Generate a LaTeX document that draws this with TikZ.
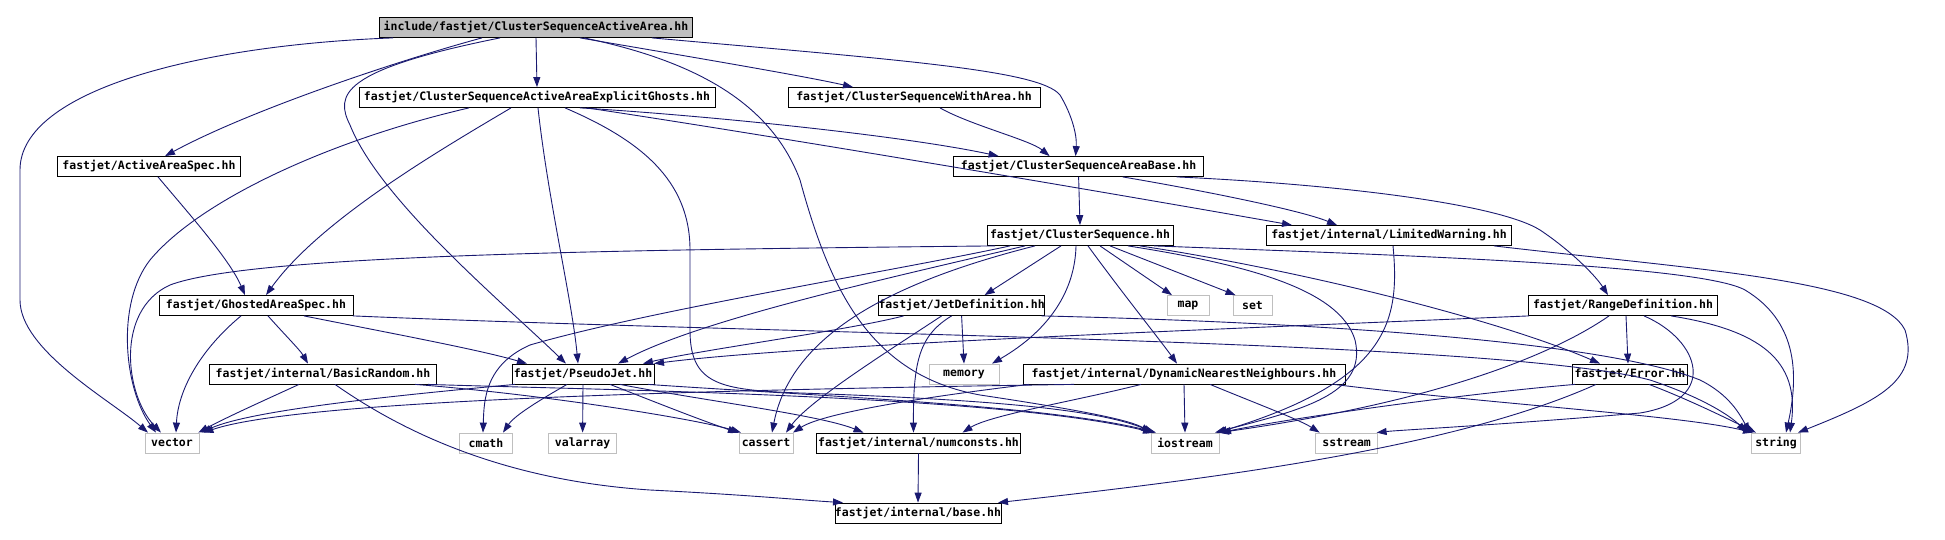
\documentclass[tikz,border=0pt]{standalone}
\usepackage{fontspec}
\usetikzlibrary{arrows.meta}
\newfontfamily\dfont{DejaVu Sans Mono}
\definecolor{edgeblue}{HTML}{191970}
\definecolor{grayb}{HTML}{BFBFBF}
\tikzset{
  fileN/.style={draw=black, line width=0.8pt, fill=white, minimum height=20pt, inner sep=0pt, font=\dfont\bfseries\fontsize{11.5}{13}\selectfont},
  sysN/.style={fileN, draw=grayb},
  rootN/.style={fileN, fill=grayb},
  e/.style={draw=edgeblue, line width=0.9pt, -{Triangle[length=10pt,width=7pt]}}
}
\begin{document}
\begin{tikzpicture}[x=1pt,y=-1pt]
\useasboundingbox (0,0) rectangle (1945,540);
% nodes
\node[rootN, minimum width=313pt] (root) at (536,27.5) {include/fastjet/ClusterSequenceActiveArea.hh};
\node[fileN, minimum width=356pt] (csaaeg) at (537,97.5) {fastjet/ClusterSequenceActiveAreaExplicitGhosts.hh};
\node[fileN, minimum width=252pt] (cswa) at (914,97.5) {fastjet/ClusterSequenceWithArea.hh};
\node[fileN, minimum width=183pt] (aas) at (149,166.5) {fastjet/ActiveAreaSpec.hh};
\node[fileN, minimum width=250pt] (csab) at (1078.6,166.5) {fastjet/ClusterSequenceAreaBase.hh};
\node[fileN, minimum width=186pt] (cs) at (1080,235.5) {fastjet/ClusterSequence.hh};
\node[fileN, minimum width=245pt] (lw) at (1389,235.5) {fastjet/internal/LimitedWarning.hh};
\node[fileN, minimum width=194pt] (gas) at (256,305.5) {fastjet/GhostedAreaSpec.hh};
\node[fileN, minimum width=164pt] (jd) at (961.6,305.5) {fastjet/JetDefinition.hh};
\node[sysN, minimum width=42pt] (map) at (1188,305.5) {map};
\node[sysN, minimum width=39pt] (set) at (1252.5,305.5) {set};
\node[fileN, minimum width=189pt] (range) at (1623,305.5) {fastjet/RangeDefinition.hh};
\node[fileN, minimum width=227pt] (br) at (323,374) {fastjet/internal/BasicRandom.hh};
\node[fileN, minimum width=142pt] (pj) at (583,374) {fastjet/PseudoJet.hh};
\node[sysN, minimum width=70pt] (memory) at (964,374) {memory};
\node[fileN, minimum width=322pt] (dnn) at (1184,374) {fastjet/internal/DynamicNearestNeighbours.hh};
\node[fileN, minimum width=115pt] (error) at (1630,374) {fastjet/Error.hh};
\node[sysN, minimum width=54pt] (vector) at (172,443) {vector};
\node[sysN, minimum width=53pt] (cmath) at (486,443) {cmath};
\node[sysN, minimum width=68pt] (valarray) at (582.6,443) {valarray};
\node[sysN, minimum width=54pt] (cassert) at (766,443) {cassert};
\node[fileN, minimum width=204pt] (numconsts) at (918.5,443) {fastjet/internal/numconsts.hh};
\node[sysN, minimum width=68pt] (iostream) at (1185,443) {iostream};
\node[sysN, minimum width=62pt] (sstream) at (1346.6,443) {sstream};
\node[sysN, minimum width=49pt] (string) at (1776,443) {string};
\node[fileN, minimum width=163pt] (base) at (918,513) {fastjet/internal/base.hh};
% root
\draw[e] ([xshift=-143pt]root.south) .. controls (200,45) and (20,90) .. (20,170) -- (20,300) .. controls (20,350) and (110,400) .. ([xshift=-24pt]vector.north);
\draw[e] ([xshift=-54pt]root.south) .. controls (400,60) and (250,110) .. ([xshift=16pt]aas.north);
\draw[e] ([xshift=-36pt]root.south) .. controls (340,70) and (335,95) .. (350,125) .. controls (380,200) and (500,300) .. ([xshift=-17pt]pj.north);
\draw[e] (root.south) -- (csaaeg.north);
\draw[e] ([xshift=44pt]root.south) .. controls (650,50) and (800,75) .. ([xshift=-61pt]cswa.north);
\draw[e] ([xshift=48pt]root.south) .. controls (690,60) and (770,100) .. (800,180) .. controls (830,290) and (870,375) .. (980,395) .. controls (1080,410) and (1130,420) .. ([xshift=-34pt]iostream.north);
\draw[e] ([xshift=116pt]root.south) .. controls (900,60) and (1040,70) .. (1060,95) .. controls (1072,115) and (1077,135) .. ([xshift=-3pt]csab.north);
% csaaeg
\draw[e] ([xshift=-68pt]csaaeg.south) .. controls (330,140) and (200,200) .. (150,260) .. controls (115,305) and (125,390) .. ([xshift=-16pt]vector.north);
\draw[e] ([xshift=-26pt]csaaeg.south) .. controls (440,150) and (320,220) .. ([xshift=10pt]gas.north);
\draw[e] ([xshift=1pt]csaaeg.south) .. controls (548,200) and (572,300) .. ([xshift=-5pt]pj.north);
\draw[e] ([xshift=28pt]csaaeg.south) .. controls (640,140) and (690,180) .. (690,250) -- (690,330) .. controls (690,385) and (720,390) .. (800,393) .. controls (1000,400) and (1100,410) .. ([xshift=-31pt]iostream.north);
\draw[e] ([xshift=43pt]csaaeg.south) .. controls (700,115) and (900,135) .. ([xshift=-80pt]csab.north);
\draw[e] ([xshift=50pt]csaaeg.south) .. controls (800,140) and (1150,200) .. ([xshift=-97pt]lw.north);
% aas, cswa
\draw[e] ([xshift=9pt]aas.south) .. controls (190,215) and (230,260) .. ([xshift=-11pt]gas.north);
\draw[e] ([xshift=26pt]cswa.south) .. controls (970,125) and (1030,140) .. ([xshift=-29pt]csab.north);
% csab
\draw[e] (csab.south) -- (cs.north);
\draw[e] ([xshift=44pt]csab.south) .. controls (1200,190) and (1300,210) .. ([xshift=-52pt]lw.north);
\draw[e] ([xshift=98pt]csab.south) .. controls (1350,185) and (1500,205) .. (1540,230) .. controls (1570,250) and (1595,275) .. ([xshift=-15pt]range.north);
% cs
\draw[e] ([xshift=-85pt]cs.south) .. controls (600,250) and (250,255) .. (170,285) .. controls (115,310) and (125,395) .. ([xshift=-11pt]vector.north);
\draw[e] ([xshift=-70pt]cs.south) .. controls (900,270) and (650,310) .. (530,345) .. controls (485,365) and (484,400) .. ([xshift=-3pt]cmath.north);
\draw[e] ([xshift=-55pt]cs.south) .. controls (880,280) and (700,320) .. ([xshift=35pt]pj.north);
\draw[e] ([xshift=-19pt]cs.south) -- ([xshift=23pt]jd.north);
\draw[e] ([xshift=-4pt]cs.south) .. controls (1075,290) and (1050,330) .. ([xshift=28pt]memory.north);
\draw[e] ([xshift=8pt]cs.south) .. controls (1120,290) and (1160,340) .. ([xshift=-7pt]dnn.north);
\draw[e] ([xshift=20pt]cs.south) -- ([xshift=-16pt]map.north);
\draw[e] ([xshift=30pt]cs.south) -- ([xshift=-17pt]set.north);
\draw[e] ([xshift=-45pt]cs.south) .. controls (880,285) and (790,340) .. ([xshift=6pt]cassert.north);
\draw[e] ([xshift=48pt]cs.south) .. controls (1250,265) and (1340,290) .. (1355,340) .. controls (1368,395) and (1300,410) .. ([xshift=30pt]iostream.north);
\draw[e] ([xshift=60pt]cs.south) .. controls (1300,270) and (1500,320) .. ([xshift=-30pt]error.north);
\draw[e] ([xshift=74pt]cs.south) .. controls (1400,255) and (1700,265) .. (1745,290) .. controls (1795,320) and (1800,370) .. ([xshift=10pt]string.north);
% lw
\draw[e] ([xshift=4pt]lw.south) .. controls (1400,320) and (1390,380) .. ([xshift=32pt]iostream.north);
\draw[e] ([xshift=105pt]lw.south) .. controls (1700,270) and (1880,280) .. (1905,330) .. controls (1920,380) and (1880,400) .. ([xshift=22pt]string.north);
% gas
\draw[e] ([xshift=-15pt]gas.south) .. controls (200,350) and (178,390) .. ([xshift=4pt]vector.north);
\draw[e] ([xshift=12pt]gas.south) .. controls (285,335) and (300,350) .. ([xshift=-15pt]br.north);
\draw[e] ([xshift=48pt]gas.south) .. controls (400,335) and (480,350) .. ([xshift=-56pt]pj.north);
\draw[e] ([xshift=97pt]gas.south) .. controls (800,335) and (1500,340) .. (1650,380) .. controls (1710,400) and (1735,420) .. ([xshift=-30pt]string.north);
% br
\draw[e] ([xshift=-24pt]br.south) .. controls (265,400) and (225,418) .. ([xshift=-1pt]vector.north east);
\draw[e] ([xshift=12pt]br.south) .. controls (400,430) and (500,480) .. (650,490) .. controls (750,495) and (800,500) .. ([xshift=-75pt]base.north);
\draw[e] ([xshift=92pt]br.south) .. controls (550,395) and (700,420) .. ([xshift=-25pt]cassert.north);
\draw[e] ([xshift=105pt]br.south) .. controls (600,390) and (1000,395) .. ([xshift=-32pt]iostream.north);
% pj
\draw[e] ([xshift=-16pt]pj.south) .. controls (540,400) and (515,415) .. ([xshift=17pt]cmath.north);
\draw[e] (pj.south) -- (valarray.north);
\draw[e] ([xshift=-68pt]pj.south) .. controls (400,395) and (250,410) .. ([xshift=2pt]vector.north east);
\draw[e] ([xshift=27pt]pj.south) .. controls (650,400) and (700,420) .. ([xshift=-28pt]cassert.north);
\draw[e] ([xshift=37pt]pj.south) .. controls (700,400) and (820,415) .. ([xshift=-55pt]numconsts.north);
\draw[e] ([xshift=65pt]pj.south) .. controls (800,395) and (1050,405) .. ([xshift=-29pt]iostream.north);
% jd
\draw[e] (jd.south) -- (memory.north);
\draw[e] ([xshift=-58pt]jd.south) .. controls (850,330) and (700,350) .. ([xshift=60pt]pj.north);
\draw[e] ([xshift=-20pt]jd.south) .. controls (890,350) and (810,400) .. ([xshift=20pt]cassert.north);
\draw[e] ([xshift=-10pt]jd.south) .. controls (920,335) and (913,360) .. ([xshift=-5pt]numconsts.north);
\draw[e] ([xshift=80pt]jd.south) .. controls (1300,322) and (1600,340) .. (1700,380) .. controls (1730,395) and (1740,415) .. ([xshift=-26pt]string.north);
% range
\draw[e] ([xshift=3pt]range.south) -- ([xshift=-2pt]error.north);
\draw[e] ([xshift=-94pt]range.south) .. controls (1200,330) and (800,345) .. ([xshift=71pt]pj.north);
\draw[e] ([xshift=-14pt]range.south) .. controls (1560,350) and (1450,400) .. ([xshift=34pt]iostream.north);
\draw[e] ([xshift=21pt]range.south) .. controls (1700,340) and (1720,400) .. (1640,413) .. controls (1500,425) and (1400,430) .. ([xshift=30pt]sstream.north);
\draw[e] ([xshift=48pt]range.south) .. controls (1760,330) and (1800,360) .. ([xshift=14pt]string.north);
% dnn
\draw[e] (dnn.south) -- (iostream.north);
\draw[e] ([xshift=-155pt]dnn.south) .. controls (900,400) and (820,415) .. ([xshift=27pt]cassert.north);
\draw[e] ([xshift=-43pt]dnn.south) .. controls (1080,400) and (990,415) .. ([xshift=44pt]numconsts.north);
\draw[e] ([xshift=26pt]dnn.south) .. controls (1260,405) and (1300,420) .. ([xshift=-27pt]sstream.north);
\draw[e] ([xshift=-110pt]dnn.south) .. controls (700,390) and (300,400) .. ([xshift=4pt]vector.north east);
\draw[e] ([xshift=150pt]dnn.south) .. controls (1500,405) and (1680,415) .. ([xshift=-23pt]string.north);
% error
\draw[e] ([xshift=-55pt]error.south) .. controls (1450,395) and (1280,420) .. ([xshift=36pt]iostream.north);
\draw[e] ([xshift=19pt]error.south) .. controls (1690,400) and (1730,420) .. ([xshift=-20pt]string.north);
\draw[e] ([xshift=-34pt]error.south) .. controls (1450,450) and (1200,480) .. ([xshift=80pt]base.north);
% numconsts
\draw[e] (numconsts.south) -- (base.north);
\end{tikzpicture}
\end{document}
